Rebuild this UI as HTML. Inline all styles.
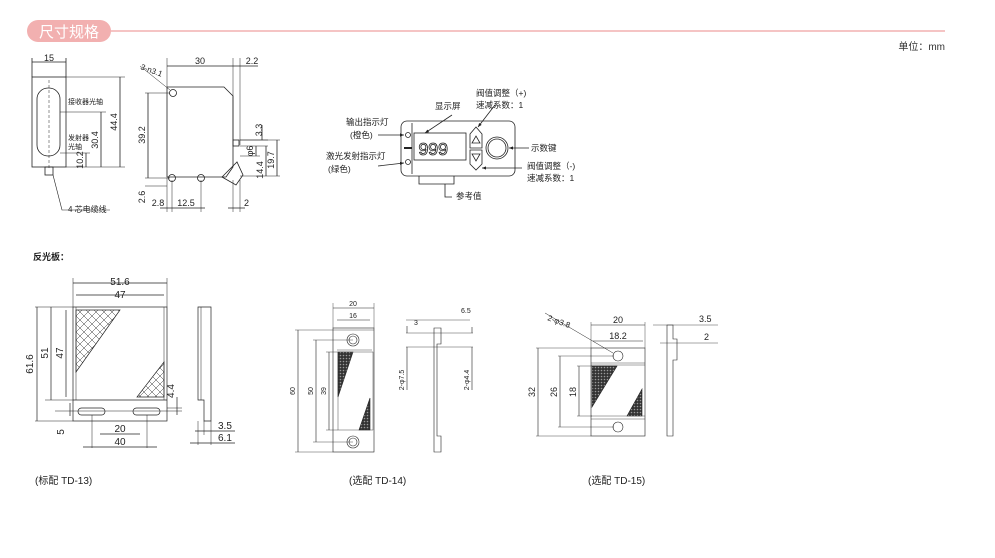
<!DOCTYPE html>
<html><head><meta charset="utf-8"><style>
html,body{margin:0;padding:0;background:#fff;}
svg{display:block;font-family:"Liberation Sans","Noto Sans CJK SC",sans-serif;}
</style></head><body>
<svg width="995" height="558" viewBox="0 0 995 558" xmlns="http://www.w3.org/2000/svg">
<defs>
<pattern id="hx" width="8" height="8" patternUnits="userSpaceOnUse"><path d="M0 0L8 8M8 0L0 8" stroke="#333" stroke-width="0.5"/></pattern>
<pattern id="dk" width="3" height="3" patternUnits="userSpaceOnUse"><rect width="3" height="3" fill="#333"/><circle cx="1.5" cy="1.5" r="0.8" fill="#999"/></pattern>
<marker id="a" markerWidth="6" markerHeight="6" refX="5" refY="3" orient="auto"><path d="M0 1L5 3L0 5z" fill="#222"/></marker>
</defs>
<rect x="27" y="20" width="84" height="22" rx="11" fill="#f2b0b0"/>
<text x="69" y="37" font-size="15" fill="#fff" text-anchor="middle">尺寸规格</text>
<line x1="111" y1="31" x2="945" y2="31" stroke="#f2b0b0" stroke-width="1.5"/>
<text x="945" y="50" font-size="10" text-anchor="end" fill="#333">单位：mm</text>

<g stroke="#222" stroke-width="0.8" fill="none" font-size="9">
<rect x="32" y="77" width="34" height="90"/>
<rect x="37" y="88" width="23" height="68" rx="11"/>
<rect x="45" y="167" width="8" height="8"/>
<line x1="49" y1="80" x2="49" y2="170" stroke-dasharray="3 2" stroke-width="0.5"/>
<line x1="32" y1="62" x2="66" y2="62"/><line x1="32" y1="58" x2="32" y2="77"/><line x1="66" y1="58" x2="66" y2="77"/>
<line x1="66" y1="77" x2="125" y2="77" stroke-width="0.5"/><line x1="66" y1="167" x2="125" y2="167" stroke-width="0.5"/>
<line x1="120" y1="77" x2="120" y2="167"/>
<line x1="60" y1="112" x2="106" y2="112" stroke-width="0.5"/><line x1="101" y1="112" x2="101" y2="167"/>
<line x1="60" y1="153" x2="90" y2="153" stroke-width="0.5"/><line x1="86" y1="153" x2="86" y2="167"/>
<polyline points="53,175 62,210 110,210" stroke-width="0.6"/>
<path d="M167 87 H224 L233 96 V167 L226 177 H167 Z"/>
<rect x="233" y="140" width="6" height="6"/>
<circle cx="173" cy="93" r="3.5"/><circle cx="172" cy="178" r="3.5"/><circle cx="201" cy="178" r="3.5"/>
<path d="M222 177 L237 162 L243 175 L236 185 Z"/>
<line x1="167" y1="58" x2="167" y2="87" stroke-width="0.5"/><line x1="233" y1="58" x2="233" y2="140" stroke-width="0.5"/><line x1="240" y1="58" x2="240" y2="145" stroke-width="0.5"/>
<line x1="167" y1="66" x2="233" y2="66"/><line x1="233" y1="66" x2="258" y2="66"/>
<line x1="145" y1="93" x2="170" y2="93" stroke-width="0.5"/><line x1="145" y1="178" x2="170" y2="178" stroke-width="0.5"/>
<line x1="148" y1="93" x2="148" y2="178"/>
<line x1="145" y1="186" x2="167" y2="186" stroke-width="0.5"/>
<line x1="167" y1="178" x2="167" y2="212" stroke-width="0.5"/><line x1="172" y1="180" x2="172" y2="212" stroke-width="0.5"/><line x1="201" y1="180" x2="201" y2="212" stroke-width="0.5"/>
<line x1="233" y1="180" x2="233" y2="212" stroke-width="0.5"/><line x1="240" y1="180" x2="240" y2="212" stroke-width="0.5"/>
<line x1="160" y1="208" x2="205" y2="208"/><line x1="228" y1="208" x2="245" y2="208"/>
<line x1="140" y1="66" x2="170" y2="90" stroke-width="0.5"/>
<line x1="240" y1="140" x2="268" y2="140" stroke-width="0.5"/><line x1="240" y1="146" x2="268" y2="146" stroke-width="0.5"/>
<line x1="240" y1="156" x2="260" y2="156" stroke-width="0.5"/><line x1="240" y1="176" x2="280" y2="176" stroke-width="0.5"/><line x1="240" y1="140" x2="280" y2="140" stroke-width="0.5"/>
<line x1="262" y1="125" x2="262" y2="140"/><line x1="256" y1="146" x2="256" y2="156"/><line x1="266" y1="146" x2="266" y2="176"/><line x1="277" y1="140" x2="277" y2="176"/>
</g>
<g font-size="9" fill="#222">
<text x="49" y="61" text-anchor="middle">15</text>
<text x="68" y="104" font-size="7">接收器光轴</text>
<text x="68" y="140" font-size="7">发射器</text><text x="68" y="149" font-size="7">光轴</text>
<text x="117" y="122" transform="rotate(-90 117 122)" text-anchor="middle">44.4</text>
<text x="98" y="140" transform="rotate(-90 98 140)" text-anchor="middle">30.4</text>
<text x="83" y="160" transform="rotate(-90 83 160)" text-anchor="middle">10.2</text>
<text x="68" y="212" font-size="8">4 芯电缆线</text>
<text x="200" y="64" text-anchor="middle">30</text>
<text x="252" y="64" text-anchor="middle">2.2</text>
<text x="140" y="69" font-size="8" transform="rotate(20 140 69)">3-n3.1</text>
<text x="145" y="135" transform="rotate(-90 145 135)" text-anchor="middle">39.2</text>
<text x="145" y="197" transform="rotate(-90 145 197)" text-anchor="middle">2.6</text>
<text x="158" y="206" text-anchor="middle">2.8</text>
<text x="186" y="206" text-anchor="middle">12.5</text>
<text x="244" y="206">2</text>
<text x="262" y="130" transform="rotate(-90 262 130)" text-anchor="middle">3.3</text>
<text x="253" y="151" transform="rotate(-90 253 151)" text-anchor="middle">φ6</text>
<text x="263" y="170" transform="rotate(-90 263 170)" text-anchor="middle">14.4</text>
<text x="274" y="160" transform="rotate(-90 274 160)" text-anchor="middle">19.7</text>
</g>

<g stroke="#222" stroke-width="0.8" fill="none">
<rect x="401" y="121" width="114" height="55" rx="6"/>
<line x1="412" y1="123" x2="412" y2="174"/>
<circle cx="408" cy="135" r="2.5"/><circle cx="408" cy="162" r="2.5"/>
<line x1="404" y1="148" x2="412" y2="148" stroke-width="2"/>
<rect x="414" y="133" width="52" height="27"/>
<path d="M470 134 L476 127 L482 134 V148 H470 Z"/><path d="M470 150 H482 V164 L476 170 L470 164 Z"/>
<path d="M472 143 L476 136 L480 143 Z"/><path d="M472 154 L480 154 L476 161 Z"/>
<circle cx="497" cy="148" r="11"/><circle cx="497" cy="148" r="9"/>
<polyline points="419,176 419,184 454,184 454,176"/>
<polyline points="445,184 445,197 452,197"/>
<line x1="378" y1="135" x2="404" y2="135" marker-end="url(#a)"/>
<line x1="378" y1="166" x2="404" y2="163" marker-end="url(#a)"/>
<line x1="452" y1="115" x2="425" y2="133" marker-end="url(#a)"/>
<line x1="495" y1="105" x2="478" y2="127" marker-end="url(#a)"/>
<line x1="529" y1="148" x2="509" y2="148" marker-end="url(#a)"/>
<line x1="522" y1="168" x2="482" y2="168" marker-end="url(#a)"/>
</g>
<g font-family="Liberation Mono,monospace" font-size="18" fill="none" stroke="#222" stroke-width="0.8"><text x="418" y="155" letter-spacing="-1">999</text></g>
<g font-size="8.5" fill="#222">
<text x="435" y="109">显示屏</text>
<text x="476" y="96">阀值调整（+)</text><text x="476" y="108">速减系数：1</text>
<text x="346" y="125">输出指示灯</text><text x="350" y="138">(橙色)</text>
<text x="326" y="159">激光发射指示灯</text><text x="328" y="172">(绿色)</text>
<text x="531" y="151">示数键</text>
<text x="527" y="169">阀值调整（-)</text><text x="527" y="181">速减系数：1</text>
<text x="456" y="199">参考值</text>
</g>

<text x="33" y="260" font-size="9" font-weight="bold" fill="#222">反光板：</text>

<g stroke="#222" stroke-width="0.7" fill="none">
<rect x="73" y="307" width="94" height="114"/>
<line x1="76" y1="307" x2="76" y2="400" stroke-width="0.5"/><line x1="164" y1="307" x2="164" y2="400" stroke-width="0.5"/>
<line x1="73" y1="400" x2="167" y2="400"/>
<path d="M76 310 H120 L76 372 Z" fill="url(#hx)"/>
<path d="M164 362 V397 H137 Z" fill="url(#hx)"/>
<rect x="78" y="408" width="27" height="7" rx="3.5"/><rect x="133" y="408" width="27" height="7" rx="3.5"/>
<line x1="73" y1="283" x2="167" y2="283"/><line x1="76" y1="295" x2="164" y2="295"/>
<line x1="73" y1="278" x2="73" y2="307" stroke-width="0.5"/><line x1="167" y1="278" x2="167" y2="307" stroke-width="0.5"/>
<line x1="35" y1="307" x2="73" y2="307" stroke-width="0.5"/><line x1="35" y1="421" x2="73" y2="421" stroke-width="0.5"/><line x1="45" y1="400" x2="73" y2="400" stroke-width="0.5"/>
<line x1="37" y1="307" x2="37" y2="421"/><line x1="51" y1="307" x2="51" y2="400"/><line x1="66" y1="310" x2="66" y2="397"/>
<line x1="70" y1="403" x2="70" y2="416"/><line x1="55" y1="411" x2="182" y2="411" stroke-width="0.5"/>
<line x1="177" y1="397" x2="177" y2="415"/><line x1="167" y1="408" x2="182" y2="408" stroke-width="0.5"/>
<line x1="92" y1="415" x2="92" y2="448" stroke-width="0.5"/><line x1="147" y1="415" x2="147" y2="448" stroke-width="0.5"/>
<line x1="100" y1="434" x2="140" y2="434"/><line x1="83" y1="447" x2="157" y2="447"/>
<path d="M198 307 H211 V421 H204 V400 H198 Z"/>
<line x1="201" y1="307" x2="201" y2="400" stroke-width="0.5"/>
<line x1="198" y1="421" x2="198" y2="445" stroke-width="0.5"/><line x1="204" y1="421" x2="204" y2="435" stroke-width="0.5"/><line x1="211" y1="421" x2="211" y2="445" stroke-width="0.5"/>
<line x1="195" y1="431" x2="235" y2="431"/><line x1="190" y1="443" x2="235" y2="443"/>
</g>
<g font-size="10" fill="#222">
<text x="120" y="285" text-anchor="middle">51.6</text>
<text x="120" y="298" text-anchor="middle">47</text>
<text x="33" y="364" transform="rotate(-90 33 364)" text-anchor="middle">61.6</text>
<text x="48" y="353" transform="rotate(-90 48 353)" text-anchor="middle">51</text>
<text x="63" y="353" transform="rotate(-90 63 353)" text-anchor="middle">47</text>
<text x="64" y="432" transform="rotate(-90 64 432)" text-anchor="middle">5</text>
<text x="174" y="391" transform="rotate(-90 174 391)" text-anchor="middle">4.4</text>
<text x="120" y="432" text-anchor="middle">20</text>
<text x="120" y="445" text-anchor="middle">40</text>
<text x="218" y="429">3.5</text><text x="218" y="441">6.1</text>
</g>

<g stroke="#222" stroke-width="0.6" fill="none">
<rect x="333" y="328" width="41" height="124"/>
<line x1="337" y1="350" x2="372" y2="350" stroke-width="0.4"/>
<circle cx="353" cy="340" r="6"/><circle cx="353" cy="340" r="4"/>
<circle cx="353" cy="442" r="6"/><circle cx="353" cy="442" r="4"/>
<rect x="338" y="352" width="35" height="78" stroke-width="0.4"/>
<path d="M338 352 H353 L338 397 Z" fill="url(#dk)"/>
<path d="M370 398 V430 H359 Z" fill="url(#dk)"/>
<line x1="333" y1="303" x2="333" y2="328" stroke-width="0.4"/><line x1="374" y1="303" x2="374" y2="328" stroke-width="0.4"/>
<line x1="333" y1="308" x2="374" y2="308"/><line x1="337" y1="320" x2="370" y2="320"/>
<line x1="295" y1="330" x2="374" y2="330" stroke-width="0.4"/><line x1="295" y1="452" x2="333" y2="452" stroke-width="0.4"/>
<line x1="298" y1="330" x2="298" y2="452"/>
<line x1="313" y1="340" x2="353" y2="340" stroke-width="0.4"/><line x1="313" y1="442" x2="353" y2="442" stroke-width="0.4"/><line x1="316" y1="340" x2="316" y2="442"/>
<line x1="326" y1="352" x2="338" y2="352" stroke-width="0.4"/><line x1="326" y1="430" x2="338" y2="430" stroke-width="0.4"/><line x1="329" y1="352" x2="329" y2="430"/>
<path d="M434 328 H441 V344 H437 V436 H441 V452 H434 Z"/>
<line x1="406" y1="320" x2="470" y2="320" stroke-width="0.4"/>
<line x1="406" y1="333" x2="473" y2="333" stroke-width="0.4"/>
<line x1="406" y1="347" x2="473" y2="347" stroke-width="0.4"/>
<line x1="407" y1="326" x2="407" y2="333"/><line x1="472" y1="327" x2="472" y2="333"/>
<line x1="407" y1="347" x2="407" y2="390"/><line x1="472" y1="347" x2="472" y2="390"/>
</g>
<g font-size="7" fill="#222">
<text x="353" y="306" text-anchor="middle">20</text><text x="353" y="318" text-anchor="middle">16</text>
<text x="295" y="391" transform="rotate(-90 295 391)" text-anchor="middle">60</text>
<text x="313" y="391" transform="rotate(-90 313 391)" text-anchor="middle">50</text>
<text x="326" y="391" transform="rotate(-90 326 391)" text-anchor="middle">39</text>
<text x="414" y="325">3</text><text x="461" y="313">6.5</text>
<text x="404" y="380" transform="rotate(-90 404 380)" text-anchor="middle">2-φ7.5</text>
<text x="469" y="380" transform="rotate(-90 469 380)" text-anchor="middle">2-φ4.4</text>
</g>

<g stroke="#222" stroke-width="0.6" fill="none">
<rect x="591" y="348" width="54" height="88"/>
<line x1="591" y1="363" x2="645" y2="363" stroke-width="0.4"/><line x1="591" y1="365" x2="645" y2="365" stroke-width="0.4"/>
<line x1="591" y1="416" x2="645" y2="416" stroke-width="0.4"/><line x1="591" y1="419" x2="645" y2="419" stroke-width="0.4"/>
<circle cx="618" cy="356" r="5"/><circle cx="618" cy="427" r="5"/>
<path d="M592 366 H617 L592 407 Z" fill="url(#dk)"/>
<path d="M642 389 V416 H627 Z" fill="url(#dk)"/>
<line x1="591" y1="322" x2="591" y2="348" stroke-width="0.4"/><line x1="645" y1="322" x2="645" y2="348" stroke-width="0.4"/>
<line x1="591" y1="325" x2="645" y2="325"/><line x1="593" y1="341" x2="643" y2="341"/>
<line x1="545" y1="313" x2="613" y2="353" stroke-width="0.5"/>
<line x1="536" y1="348" x2="591" y2="348" stroke-width="0.4"/><line x1="536" y1="436" x2="591" y2="436" stroke-width="0.4"/><line x1="538" y1="348" x2="538" y2="436"/>
<line x1="558" y1="356" x2="614" y2="356" stroke-width="0.4"/><line x1="558" y1="427" x2="614" y2="427" stroke-width="0.4"/><line x1="560" y1="356" x2="560" y2="427"/>
<line x1="577" y1="366" x2="592" y2="366" stroke-width="0.4"/><line x1="577" y1="416" x2="592" y2="416" stroke-width="0.4"/><line x1="579" y1="366" x2="579" y2="416"/>
<path d="M667 325 H673 V339 H677 V360 H673 V436 H667 Z"/>
<line x1="653" y1="325" x2="718" y2="325" stroke-width="0.4"/><line x1="660" y1="343" x2="718" y2="343" stroke-width="0.4"/>
</g>
<g font-size="9" fill="#222">
<text x="618" y="323" text-anchor="middle">20</text><text x="618" y="339" text-anchor="middle">18.2</text>
<text x="547" y="320" font-size="8" transform="rotate(20 547 320)">2-φ3.8</text>
<text x="535" y="392" transform="rotate(-90 535 392)" text-anchor="middle">32</text>
<text x="557" y="392" transform="rotate(-90 557 392)" text-anchor="middle">26</text>
<text x="576" y="392" transform="rotate(-90 576 392)" text-anchor="middle">18</text>
<text x="699" y="322">3.5</text><text x="704" y="340">2</text>
</g>

<g font-size="10" fill="#222">
<text x="35" y="484">(标配 TD-13)</text>
<text x="349" y="484">(选配 TD-14)</text>
<text x="588" y="484">(选配 TD-15)</text>
</g>
</svg>
</body></html>
